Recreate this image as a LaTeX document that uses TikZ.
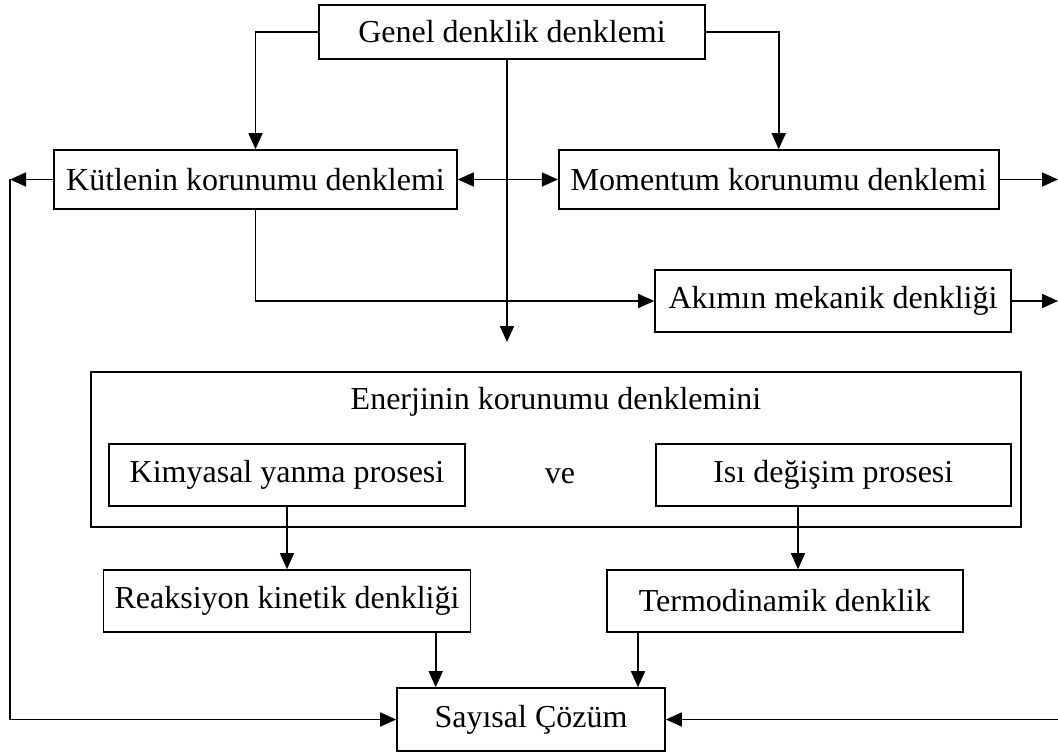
\documentclass[tikz,border=0pt]{standalone}
\usepackage{fontspec}
\setmainfont{Liberation Serif}
\usetikzlibrary{arrows.meta}
\begin{document}
\begin{tikzpicture}[x=1pt,y=-1pt,
  box/.style={draw, line width=1.6pt, inner sep=0pt, minimum width=#1, align=center},
  label/.style={inner sep=0pt},
  tip/.tip={Triangle[length=16pt,width=14pt]},
  arr/.style={line width=1.6pt, -tip},
  darr/.style={line width=1.6pt, tip-tip},
  font=\fontsize{32}{38}\selectfont]
\useasboundingbox (0,0) rectangle (1058,754);

% boxes
\node[box=386pt, minimum height=54pt] (genel) at (512,32) {Genel denklik denklemi};
\node[box=403pt, minimum height=59pt] (kut) at (255.5,179.5) {Kütlenin korunumu denklemi};
\node[box=440pt, minimum height=59pt] (mom) at (778.7,179.5) {Momentum korunumu denklemi};
\node[box=356pt, minimum height=62pt] (akim) at (833,301) {Akımın mekanik denkliği};
\node[box=930pt, minimum height=155pt] (ener) at (555.9,449.4) {};
\node[label] (enertitle) at (556,402) {Enerjinin korunumu denklemini};
\node[box=356pt, minimum height=62pt] (kim) at (287,475) {Kimyasal yanma prosesi};
\node[label] (ve) at (560,476) {ve};
\node[box=355pt, minimum height=62pt] (isi) at (833.3,475) {Isı değişim prosesi};
\node[box=367pt, minimum height=62pt] (rea) at (287,601) {Reaksiyon kinetik denkliği};
\node[box=356pt, minimum height=62pt] (term) at (784.8,601) {Termodinamik denklik};
\node[box=268pt, minimum height=63pt] (say) at (531,719.5) {Sayısal Çözüm};

% free ends and routing columns
\coordinate (gdrop) at (507,342);
\coordinate (lft) at (10,179.5);
\coordinate (rmom) at (1058,179.5);
\coordinate (rakim) at (1058,301);
\coordinate (rsay) at (1058,719.5);
\coordinate (isix) at (798,0);
\coordinate (reax) at (435.7,0);
\coordinate (termx) at (638,0);

% connectors
\draw[arr] (genel.west) -| (kut.north);
\draw[arr] (genel.east) -| (mom.north);
\draw[arr] (gdrop |- genel.south) -- (gdrop);
\draw[darr] (kut.east) -- (mom.west);
\draw[arr] (kut.west) -- (lft);
\draw[arr] (lft) |- (say.west);
\draw[arr] (mom.east) -- (rmom);
\draw[arr] (kut.south) |- (akim.west);
\draw[arr] (akim.east) -- (rakim);
\draw[arr] (kim.south) -- (kim.south |- rea.north);
\draw[arr] (isi.south -| isix) -- (term.north -| isix);
\draw[arr] (rea.south -| reax) -- (say.north -| reax);
\draw[arr] (term.south -| termx) -- (say.north -| termx);
\draw[arr] (rsay) -- (say.east);
\end{tikzpicture}
\end{document}
